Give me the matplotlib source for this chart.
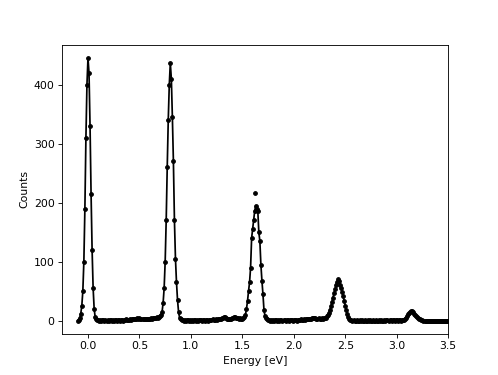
"""Spectrum plot: measured counts vs energy, dots joined by a line."""
import matplotlib
matplotlib.use("Agg")
import matplotlib.pyplot as plt
import numpy as np

# energy axis: evenly spaced bins, 0.01 eV wide, starting at -0.10 eV
energy_start = -0.10
energy_step = 0.01

# counts per bin, one row per 0.1 eV (row label = first bin energy)
counts = [
    0, 1, 4, 12, 25, 50, 100, 190, 310, 400,            # -0.10
    445, 420, 330, 215, 120, 55, 20, 6, 2, 1,           # 0.00
    1, 0, 1, 0, 1, 1, 0, 1, 0, 1,                       # 0.10
    0, 1, 1, 0, 1, 0, 1, 1, 0, 1,                       # 0.20
    1, 0, 1, 1, 0, 1, 1, 2, 1, 1,                       # 0.30
    1, 2, 1, 2, 2, 3, 2, 3, 4, 3,                       # 0.40
    5, 3, 2, 3, 2, 2, 3, 2, 3, 3,                       # 0.50
    3, 4, 3, 4, 5, 4, 5, 6, 5, 6,                       # 0.60
    8, 10, 15, 30, 55, 100, 170, 260, 340, 400,         # 0.70
    437, 410, 345, 270, 170, 105, 65, 35, 15, 5,        # 0.80
    2, 1, 1, 0, 1, 0, 1, 1, 0, 1,                       # 0.90
    0, 1, 0, 1, 1, 0, 1, 0, 1, 1,                       # 1.00
    1, 0, 1, 1, 0, 1, 1, 0, 1, 1,                       # 1.10
    1, 2, 1, 1, 2, 1, 2, 2, 3, 3,                       # 1.20
    4, 5, 6, 6, 5, 3, 2, 2, 3, 3,                       # 1.30
    4, 5, 6, 6, 5, 4, 4, 3, 4, 3,                       # 1.40
    3, 4, 6, 10, 20, 33, 50, 65, 90, 140,               # 1.50
    155, 170, 186, 195, 190, 186, 150, 135, 95, 68,     # 1.60
    45, 18, 8, 4, 2, 1, 1, 0, 1, 0,                     # 1.70
    1, 0, 1, 1, 0, 1, 0, 1, 1, 0,                       # 1.80
    1, 1, 0, 1, 1, 0, 1, 1, 1, 0,                       # 1.90
    1, 1, 1, 0, 1, 1, 1, 2, 1, 1,                       # 2.00
    2, 1, 2, 2, 3, 2, 3, 3, 4, 4,                       # 2.10
    5, 4, 3, 3, 4, 3, 3, 4, 3, 4,                       # 2.20
    5, 5, 7, 9, 13, 18, 24, 31, 39, 46,                 # 2.30
    53, 60, 66, 70, 67, 61, 55, 48, 41, 33,             # 2.40
    25, 18, 11, 6, 3, 1, 1, 0, 1, 0,                    # 2.50
    0, 1, 0, 0, 1, 0, 1, 0, 0, 1,                       # 2.60
    0, 0, 1, 0, 1, 0, 0, 1, 0, 0,                       # 2.70
    1, 0, 0, 1, 0, 1, 0, 0, 1, 0,                       # 2.80
    1, 1, 0, 1, 1, 0, 1, 1, 0, 1,                       # 2.90
    1, 0, 1, 1, 0, 1, 1, 1, 3, 5,                       # 3.00
    8, 11, 13, 15, 16, 16, 14, 12, 10, 8,               # 3.10
    6, 4, 3, 2, 1, 1, 0, 0, 0, 0,                       # 3.20
    0, 0, 0, 0, 0, 0, 0, 0, 0, 0,                       # 3.30
    0, 0, 0, 0, 0, 0, 0, 0, 0, 0,                       # 3.40
    0,                                                  # 3.50
]

# single stray reading sitting above the third peak
outlier_energy = [1.625]
outlier_counts = [216]


def main():
    y = np.array(counts, dtype=float)
    x = energy_start + energy_step * np.arange(len(y))

    fig, ax = plt.subplots(figsize=(498 / 78, 375 / 78), dpi=78)
    ax.plot(x, y, "-", color="black", lw=1.6, zorder=2)
    ax.plot(x, y, "o", color="black", ms=3.4, zorder=3)
    ax.plot(outlier_energy, outlier_counts, "o", color="black", ms=3.4, zorder=3)

    ax.set_xlim(-0.25, 3.5)
    ax.set_xlabel("Energy [eV]")
    ax.set_ylabel("Counts")

    fig.savefig("out.png", dpi=78)


if __name__ == "__main__":
    main()
